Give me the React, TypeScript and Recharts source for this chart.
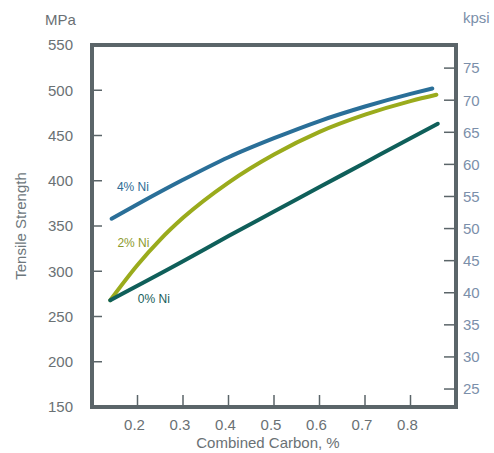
import React from "react"
import { LineChart, Line, XAxis, YAxis, ReferenceArea, ReferenceDot } from "recharts"

// axis ticks
const carbonTicks = [0.2, 0.3, 0.4, 0.5, 0.6, 0.7, 0.8]
const mpaTicks = [150, 200, 250, 300, 350, 400, 450, 500, 550]
const kpsiTicks = [25, 30, 35, 40, 45, 50, 55, 60, 65, 70, 75]

// tensile strength (MPa) vs combined carbon (%)
const carbon4 = [0.143, 0.2, 0.3, 0.4, 0.5, 0.6, 0.7, 0.8, 0.848]
const ni4 = [358, 374, 401, 426, 447, 466, 482, 496, 502]
const carbon2 = [0.14, 0.2, 0.25, 0.3, 0.4, 0.5, 0.6, 0.7, 0.8, 0.857]
const ni2 = [268, 307, 335, 359, 398, 429, 454, 473, 488, 495]
const carbon0 = [0.14, 0.3, 0.4, 0.5, 0.6, 0.7, 0.8, 0.86]
const ni0 = [268, 311, 339, 366, 393, 420, 447, 463]

const seriesNames = ["4% Ni", "2% Ni", "0% Ni"]
const noteCarbon = [0.19, 0.191, 0.236]
const noteMpa = [393, 332, 270]

const FONT = "'Liberation Sans', Arial, sans-serif"
const FRAME = "#5b6569"
const LINE_COLORS = ["#2a6f98", "#9aab1c", "#0f5f5a"]
const NOTE_COLORS = ["#2f6b94", "#8c9a2c", "#175e5b"]

const toPoints = (xs: number[], ys: number[]) => xs.map((c, i) => ({ carbon: c, mpa: ys[i] }))
const seriesData = [toPoints(carbon4, ni4), toPoints(carbon2, ni2), toPoints(carbon0, ni0)]

const tickLineStyle = { stroke: FRAME, strokeWidth: 1.5 }

const App = () => {
  return (
    <div style={{ position: "absolute", left: 0, top: 0, background: "#fff" }}>
      <LineChart
        width={494}
        height={453}
        margin={{ top: 44, right: 0, bottom: 0, left: 12 }}
        style={{ fontFamily: FONT }}
      >
        <XAxis
          xAxisId="b"
          type="number"
          dataKey="carbon"
          domain={[0.1, 0.9]}
          allowDataOverflow
          ticks={carbonTicks}
          height={46}
          axisLine={false}
          tickSize={-12}
          tickMargin={24}
          tickLine={tickLineStyle}
          tick={{ fill: "#6a7174", fontSize: 15, fontFamily: FONT, dx: -3 }}
          label={{
            content: (props: any) => {
              const vb = props.viewBox || { x: 92, y: 407, width: 364, height: 46 }
              return (
                <text x={vb.x + vb.width / 2 - 6} y={vb.y + 41} textAnchor="middle" fill="#6a7174" fontSize={15} fontFamily={FONT}>
                  Combined Carbon, %
                </text>
              )
            },
          }}
        />
        <XAxis
          xAxisId="t"
          orientation="top"
          type="number"
          domain={[0.1, 0.9]}
          allowDataOverflow
          ticks={carbonTicks}
          height={1}
          axisLine={false}
          tick={false}
          tickSize={-12}
          tickLine={tickLineStyle}
        />
        <YAxis
          yAxisId="l"
          type="number"
          domain={[150, 550]}
          allowDataOverflow
          ticks={mpaTicks}
          width={80}
          axisLine={false}
          tickSize={-10}
          tickMargin={29}
          tickLine={tickLineStyle}
          tick={{ fill: "#6a7174", fontSize: 15, fontFamily: FONT }}
          label={{
            content: (props: any) => {
              const vb = props.viewBox || { x: 12, y: 45, width: 80, height: 362 }
              const cx = vb.x + 14
              const cy = vb.y + vb.height / 2
              return (
                <text x={cx} y={cy} transform={`rotate(-90 ${cx} ${cy})`} textAnchor="middle" fill="#6d777c" fontSize={15} fontFamily={FONT}>
                  Tensile Strength
                </text>
              )
            },
          }}
        />
        <YAxis
          yAxisId="r"
          orientation="right"
          type="number"
          domain={[22.2, 78.6]}
          allowDataOverflow
          ticks={kpsiTicks}
          width={38}
          axisLine={false}
          tickSize={-12}
          tickMargin={19}
          tickLine={tickLineStyle}
          tick={{ fill: "#7b8faa", fontSize: 15, fontFamily: FONT }}
        />

        <ReferenceArea
          xAxisId="b"
          yAxisId="l"
          x1={0.1}
          x2={0.9}
          y1={150}
          y2={550}
          fill="none"
          fillOpacity={0}
          stroke={FRAME}
          strokeWidth={4}
          strokeOpacity={1}
        />

        {seriesData.map((data, i) => (
          <Line
            key={seriesNames[i]}
            name={seriesNames[i]}
            xAxisId="b"
            yAxisId="l"
            data={data}
            dataKey="mpa"
            type="monotone"
            stroke={LINE_COLORS[i]}
            strokeWidth={4}
            strokeLinecap="round"
            dot={false}
            activeDot={false}
            isAnimationActive={false}
          />
        ))}

        {seriesNames.map((name, i) => (
          <ReferenceDot
            key={"note-" + name}
            xAxisId="b"
            yAxisId="l"
            x={noteCarbon[i]}
            y={noteMpa[i]}
            r={0}
            fill="none"
            stroke="none"
            label={{ value: name, position: "center", fill: NOTE_COLORS[i], fontSize: 12, fontFamily: FONT }}
          />
        ))}

        <text x={45} y={25} fill="#6a7074" fontSize={15} fontFamily={FONT}>MPa</text>
        <text x={463} y={23} fill="#7b8faa" fontSize={15} fontFamily={FONT}>kpsi</text>
      </LineChart>
    </div>
  )
}

export default App
